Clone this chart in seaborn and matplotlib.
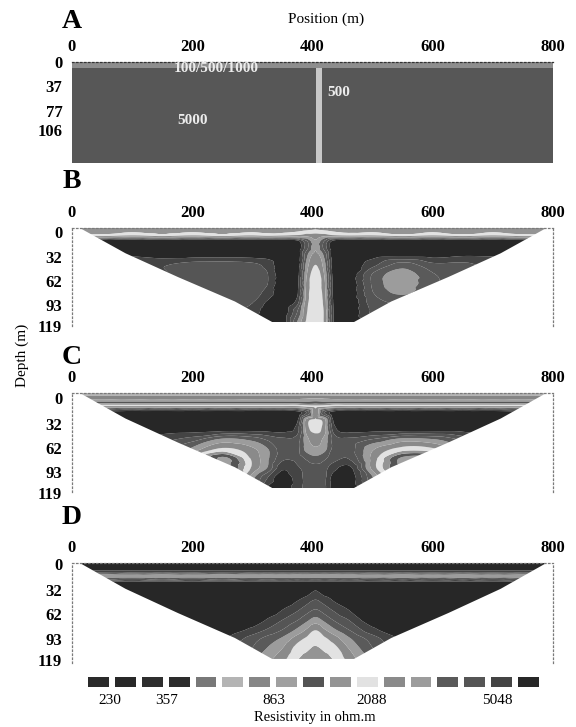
import numpy as np
import matplotlib
matplotlib.use("Agg")
import matplotlib.pyplot as plt
import matplotlib.tri as mtri
from matplotlib.colors import ListedColormap
from matplotlib.patches import Polygon
from matplotlib.transforms import ScaledTranslation
import seaborn as sns

# ---------------- data ----------------
position_ticks = [0, 200, 400, 600, 800]
depth_ticks_model = [0, 37, 77, 106]
depth_ticks = [0, 32, 62, 93, 119]

# Panel A: synthetic model (unit index per cell)
model_x_edges = [0, 406, 416, 800]
model_z_edges = [0, 10, 158]
model_units = [[0, 0, 0],
               [2, 1, 2]]
model_unit_colors = ["#8e8e8e", "#c8c8c8", "#575757"]
model_unit_text = ["100/500/1000", "500", "5000"]
model_text_x = [240, 443, 200]
model_text_z = [10, 47, 91]

# Legend (grey rendering of the colour scale)
legend_values = [230, 357, 863, 2088, 5048]
legend_grays = ["#2a2a2a", "#282828", "#2e2e2e", "#2c2c2c", "#787878", "#b4b4b4",
                "#868686", "#a0a0a0", "#545454", "#949494", "#e2e2e2", "#8a8a8a",
                "#9c9c9c", "#5a5a5a", "#555555", "#444444", "#272727"]
legend_label_at = [0.93, 3.05, 7.03, 10.68, 15.33]

# Pseudo-section grid (position m, depth m) and resistivities (ohm.m)
grid_x = [0, 50, 100, 150, 200, 250, 300, 325, 350, 375, 390, 405, 420, 435, 460,
          500, 550, 600, 650, 700, 750, 800]
grid_z = [0, 5, 10, 16, 24, 34, 46, 58, 70, 82, 94, 106, 119]

rho_B = [
    [1500,1500,1500,1500,1500,1500,1500,1500,1500,1500,1500,1550,1500,1500,1500,1500,1500,1500,1500,1500,1500,1500],
    [1600,1550,1650,1550,1650,1550,1650,1600,1600,1700,1800,1900,1800,1700,1600,1650,1550,1650,1550,1650,1550,1600],
    [2100,2000,2250,2000,2250,2000,2250,2100,2200,2300,2500,2400,2500,2300,2200,2250,2000,2250,2000,2250,2000,2100],
    [6500,7000,7500,7500,7500,7500,7500,7500,7500,6500,4000,2700,4000,6500,7500,7500,7500,7500,7500,7500,7000,6500],
    [6500,7000,7500,7500,7500,7500,7500,7500,7500,7500,4500,2700,4500,7500,7500,7500,7500,7500,7500,7500,7000,6500],
    [6000,6000,6500,7000,7000,7000,7000,7000,7500,7500,3500,2400,3500,7500,7500,7000,7000,7000,6500,6500,6000,6000],
    [5500,5500,5500,5200,4600,4500,4800,5500,7500,7500,3000,2100,3000,7500,7500,5500,3700,4800,4800,5500,5500,5500],
    [5500,5500,5500,5200,4400,4300,4500,5000,7500,7000,2700,1850,2700,7000,7500,4000,2900,4000,4500,5000,5200,5500],
    [5500,5500,5500,5200,4500,4300,4500,5000,7500,6800,2500,1850,2500,6800,7500,3900,2800,3900,4500,4800,5200,5500],
    [5500,5500,5500,5200,4800,4500,4600,5500,7500,6500,2400,1850,2400,6800,7500,4100,3100,4100,4600,4800,5200,5500],
    [5500,5500,5500,5200,4800,4800,5000,6500,7500,5500,2300,1850,2300,6500,7500,4500,4000,4500,4600,4800,5200,5500],
    [5500,5500,5500,5200,5000,5000,5500,7200,7500,4000,2150,1800,2200,6300,7500,4800,4500,4600,4600,4800,5200,5500],
    [5500,5500,5500,5200,5000,5200,6000,7500,7500,3200,2000,1750,2200,6300,7500,5000,4500,4600,4600,4800,5200,5500],
]

rho_C = [
    [560,560,560,560,560,560,560,560,560,560,560,560,560,560,560,560,560,560,560,560,560,560],
    [760,760,760,760,760,760,760,760,760,760,780,780,780,760,760,760,760,760,760,760,760,760],
    [1000,1000,1000,1000,1000,1000,1000,1000,1000,1000,1000,1050,1000,1000,1000,1000,1000,1000,1000,1000,1000,1000],
    [1950,1950,1950,1950,1950,1950,1950,1950,1950,1950,1750,1700,1750,1950,1950,1950,1950,1950,1950,1950,1950,1950],
    [6500,7000,7500,7500,7500,7500,7500,7500,7500,7000,5000,2200,5000,7000,7500,7500,7500,7500,7500,7500,7000,6500],
    [7000,7500,7500,7500,7500,7500,7500,7500,7500,6500,2400,1950,2400,6500,7500,7500,7500,7500,7500,7500,7500,7000],
    [7000,7000,7000,7000,7000,6800,6800,6800,6800,5500,2400,1950,2400,5500,6800,6800,6800,6800,6800,7000,7000,7000],
    [6000,6000,6000,5500,4500,3100,3500,4200,4800,4500,2800,2400,2800,4500,4800,4000,3000,3200,4300,5500,6000,6000],
    [5500,5500,5500,5000,3100,2000,2500,3200,4500,4300,3000,2700,3000,4300,4500,2700,1900,2000,2800,5000,5500,5500],
    [5500,5500,5500,5000,2900,1000,2200,3100,4800,4600,3900,3500,3900,4600,5000,2400,1000,1000,2600,5000,5500,5500],
    [5500,5500,5500,5000,2800,1000,2200,3300,6000,5200,4700,4400,4700,5800,6800,2400,1000,1000,2500,5000,5500,5500],
    [5500,5500,5500,5000,3000,1000,3000,5000,7500,5500,4800,4500,4800,7000,7500,3300,1000,1000,2500,5000,5500,5500],
    [5500,5500,5500,5000,3000,1000,3300,6500,7500,5500,4800,4600,4800,7200,7500,5000,1000,1000,2500,5000,5500,5500],
]

rho_D = [
    [7000,7000,7000,7000,7000,7000,7000,7000,7000,7000,7000,7000,7000,7000,7000,7000,7000,7000,7000,7000,7000,7000],
    [7000,7000,7000,7000,7000,7000,7000,7000,7000,7000,7000,7000,7000,7000,7000,7000,7000,7000,7000,7000,7000,7000],
    [6000,6000,6000,6000,6000,6000,6000,6000,6000,6000,6000,6000,6000,6000,6000,6000,6000,6000,6000,6000,6000,6000],
    [2800,2700,2900,2700,2900,2700,2800,2700,2800,2700,2800,2700,2800,2700,2800,2900,2700,2900,2700,2900,2700,2800],
    [7000,7000,7000,7000,7000,7000,7000,7000,7000,7000,7000,7000,7000,7000,7000,7000,7000,7000,7000,7000,7000,7000],
    [7500,7500,7500,7500,7500,7500,7500,7500,7500,7500,7200,6300,7200,7500,7500,7500,7500,7500,7500,7500,7500,7500],
    [7500,7500,7500,7500,7500,7500,7500,7500,7500,6400,5600,5000,5600,6400,7500,7500,7500,7500,7500,7500,7500,7500],
    [7500,7500,7500,7500,7500,7500,7500,7500,6300,5200,4500,4000,4500,5200,6300,7500,7500,7500,7500,7500,7500,7500],
    [7500,7500,7500,7500,7500,7500,7500,6200,5100,4150,3500,3000,3500,4150,5100,7500,7500,7500,7500,7500,7500,7500],
    [7500,7500,7500,7500,7500,7500,6000,5000,4100,3150,2600,2150,2600,3150,4100,6000,7500,7500,7500,7500,7500,7500],
    [7500,7500,7500,7500,7500,6500,4500,3700,3100,2300,2000,1850,2000,2300,3100,4500,6500,7500,7500,7500,7500,7500],
    [7500,7500,7500,7500,7500,5500,4000,3200,2600,1900,1750,1620,1750,1900,2600,4000,5500,7500,7500,7500,7500,7500],
    [7500,7500,7500,7500,7500,5000,3400,2800,2250,1700,1550,1450,1550,1700,2250,3400,5000,7500,7500,7500,7500,7500],
]

# Pseudo-section outline (trapezoid)
edge_z = [0, 32, 62, 93, 119]
edge_left = [13, 89, 176, 271, 333]
edge_right = [789, 713, 626, 531, 469]

# ---------------- styling ----------------
sns.set_theme(style="white")
plt.rcParams['font.family'] = ['Liberation Serif', 'DejaVu Serif']
plt.rcParams['text.color'] = 'black'
plt.rcParams['xtick.color'] = 'black'
plt.rcParams['ytick.color'] = 'black'

W, H = 576, 727
fig = plt.figure(figsize=(W / 100, H / 100), dpi=100)
fig.patch.set_facecolor('white')


def px_axes(l, t, r, b):
    return fig.add_axes([l / W, 1 - b / H, (r - l) / W, (b - t) / H])


def ftext(x, y, s, **kw):
    fig.text(x / W, 1 - y / H, s, **kw)


r = (legend_values[-1] / legend_values[0]) ** (1 / 14)
levels = [1.0] + [legend_values[0] * r ** k for k in range(16)] + [1e6]
log_levels = np.log10(levels)


def style_axes(ax, yticks, ymax, yshift_px, spine_color='#7a7a7a'):
    ax.set_xlim(0, 800)
    ax.set_ylim(ymax, 0)
    ax.xaxis.tick_top()
    ax.set_xticks(position_ticks)
    ax.set_xticklabels([str(v) for v in position_ticks], fontsize=12, fontweight='bold')
    ax.set_yticks(yticks)
    ax.set_yticklabels([str(v) for v in yticks], fontsize=12, fontweight='bold')
    ax.tick_params(axis='x', length=0, pad=5)
    ax.tick_params(axis='y', length=0, pad=7)
    ax.grid(False)
    ax.set_facecolor('none')
    for s in ['top', 'left', 'right']:
        ax.spines[s].set_visible(True)
        ax.spines[s].set_color(spine_color)
        ax.spines[s].set_linewidth(0.9)
        ax.spines[s].set_linestyle((0, (1.2, 2.0)))
    ax.spines['bottom'].set_visible(False)
    if yshift_px:
        off = ScaledTranslation(0, -yshift_px / 100, fig.dpi_scale_trans)
        for lbl in ax.get_yticklabels():
            lbl.set_transform(lbl.get_transform() + off)


# ---------------- Panel A ----------------
axA = px_axes(72, 62, 553, 163)
unit_cmap = ListedColormap(model_unit_colors)
axA.pcolormesh(model_x_edges, model_z_edges, np.array(model_units), cmap=unit_cmap,
               vmin=-0.5, vmax=2.5, shading='flat')
style_axes(axA, depth_ticks_model, 158, 0, spine_color='#333333')
axA.spines['left'].set_visible(False)
axA.spines['right'].set_visible(False)
for txt, tx, tz in zip(model_unit_text, model_text_x, model_text_z):
    axA.text(tx, tz, txt, color='#ececec', fontsize=11, fontweight='bold',
             ha='center', va='center')

# ---------------- Panels B, C, D ----------------
X, Z = np.meshgrid(grid_x, grid_z)
tri = mtri.Triangulation(X.ravel().astype(float), Z.ravel().astype(float))
refiner = mtri.UniformTriRefiner(tri)
outline = list(zip(edge_left, edge_z)) + list(zip(edge_right[::-1], edge_z[::-1]))


def section(ax, rho, yshift):
    logr = np.log10(np.array(rho, dtype=float)).ravel()
    interp = mtri.CubicTriInterpolator(tri, logr, kind='geom')
    tri_r, z_r = refiner.refine_field(logr, triinterpolator=interp, subdiv=3)
    cs = ax.tricontourf(tri_r, z_r, levels=log_levels, colors=legend_grays,
                        antialiased=True)
    poly = Polygon(outline, closed=True, transform=ax.transData,
                   facecolor='none', edgecolor='none')
    ax.add_patch(poly)
    cs.set_clip_path(poly)
    style_axes(ax, depth_ticks, 124, yshift)


axB = px_axes(72, 228, 553, 326)
section(axB, rho_B, 4)
axC = px_axes(72, 393, 553, 492)
section(axC, rho_C, 5)
axD = px_axes(72, 563, 553, 663)
section(axD, rho_D, 1)

# ---------------- Legend ----------------
axL = px_axes(85, 674, 542, 690)
sns.heatmap(np.arange(17)[None, :], cmap=ListedColormap(legend_grays), cbar=False,
            linewidths=3, linecolor='white', ax=axL, xticklabels=False,
            yticklabels=False, vmin=-0.5, vmax=16.5)
axL.set_xticks(legend_label_at)
axL.set_xticklabels([str(v) for v in legend_values], fontsize=11)
axL.tick_params(axis='x', length=0, pad=3)
for s in axL.spines.values():
    s.set_visible(False)

# ---------------- Texts ----------------
ftext(72, 21, "A", fontsize=20, fontweight='bold', ha='center', va='center')
ftext(72, 182, "B", fontsize=20, fontweight='bold', ha='center', va='center')
ftext(72, 357, "C", fontsize=20, fontweight='bold', ha='center', va='center')
ftext(72, 517, "D", fontsize=20, fontweight='bold', ha='center', va='center')
ftext(326, 19, "Position (m)", fontsize=11, ha='center', va='center')
ftext(22, 355, "Depth (m)", fontsize=11, rotation=90, ha='center', va='center')
ftext(315, 718, "Resistivity in ohm.m", fontsize=10.5, ha='center', va='center')

fig.savefig("out.png", dpi=100, facecolor='white')
